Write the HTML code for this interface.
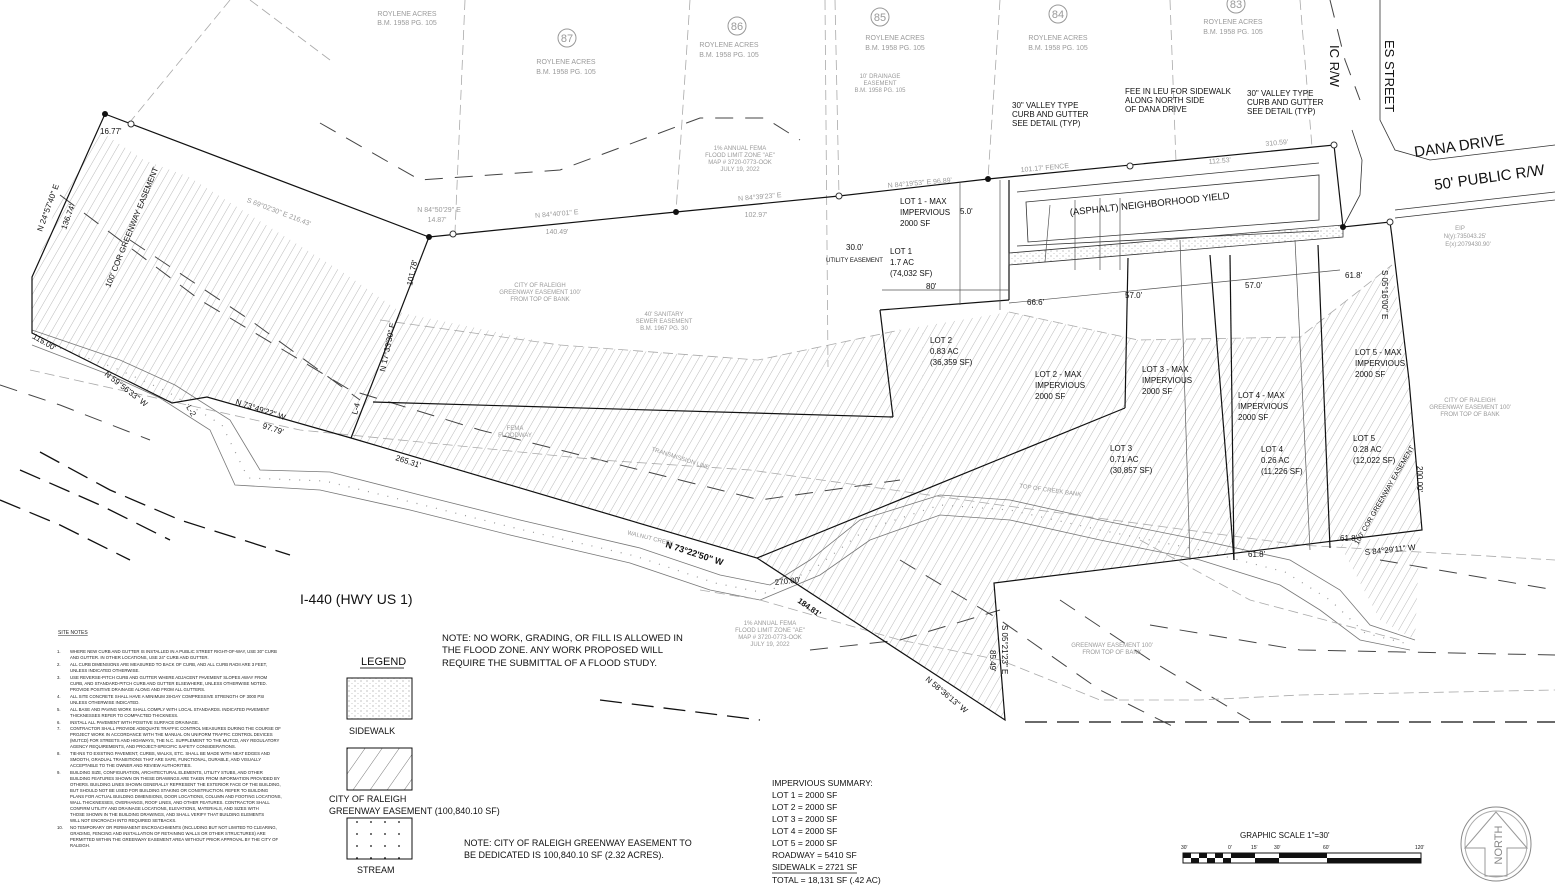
<!DOCTYPE html>
<html><head><meta charset="utf-8"><style>
html,body{margin:0;padding:0;background:#fff;}
svg{display:block;font-family:"Liberation Sans",Arial,sans-serif;}
.g{fill:#9a9a9a;font-size:7px;}
.k{fill:#111;font-size:8px;}
</style></head><body>
<svg width="1555" height="888" viewBox="0 0 1555 888" xmlns="http://www.w3.org/2000/svg">
<defs>
<pattern id="h" width="7" height="7" patternUnits="userSpaceOnUse" patternTransform="rotate(30)">
<line x1="0" y1="0" x2="0" y2="7" stroke="#9a9a9a" stroke-width="0.7"/></pattern>
<pattern id="h2" width="14" height="14" patternUnits="userSpaceOnUse" patternTransform="rotate(35)">
<line x1="0" y1="0" x2="0" y2="14" stroke="#555" stroke-width="0.8"/></pattern>
<pattern id="st" width="6" height="5" patternUnits="userSpaceOnUse">
<circle cx="1" cy="1" r="0.5" fill="#666"/><circle cx="4" cy="3.5" r="0.4" fill="#888"/></pattern>
<pattern id="sm" width="14" height="12" patternUnits="userSpaceOnUse">
<circle cx="7" cy="6" r="0.9" fill="#111"/></pattern>
</defs>
<rect width="1555" height="888" fill="#fff"/>

<polygon fill="url(#h)" points="98,130 144,160 189,177 258,220 344,273 402,313 560,345 758,360 900,330 1009,312 1138,340 1300,337 1392,265 1409,380 1422,530 994,583 1005,720 757,558 351,438 207,397 172,403 32,333 32,277 60,195"/>
<polygon fill="url(#h)" points="1340,545 1420,530 1415,640 1380,620"/>

<polyline fill="none" stroke="#777" stroke-width="0.8" points="32,330 120,360 175,385 230,420 260,470 330,472 420,495 520,520 640,548 720,575 770,585 810,560 860,520 940,495 1010,500 1100,520 1200,540 1290,560 1340,590 1370,625 1415,640"/>
<polyline fill="none" stroke="#777" stroke-width="0.8" points="32,345 110,375 160,398 210,430 235,485 320,490 410,510 510,535 630,563 710,590 760,600 820,575 870,540 940,515 1010,520 1100,540 1200,560 1280,585 1320,610 1360,640 1410,650"/>
<polyline fill="none" stroke="#999" stroke-width="1.2" stroke-dasharray="1 9" points="32,338 115,368 168,392 222,425 248,478 325,481 415,503 515,528 635,556 715,583 765,593 815,568 865,530 940,505 1010,510 1100,530 1200,550 1285,572 1330,600 1365,633 1412,645"/>

<g stroke="#111" stroke-width="1.3" fill="none" stroke-dasharray="22 10">
<polyline points="40,452 110,490 180,520 290,555"/>
<polyline points="20,470 100,505 170,540"/>
<polyline points="0,500 60,525 130,560"/>
<polyline points="1025,722 1555,722"/>
<polyline points="600,700 760,720"/>
</g>
<g stroke="#444" stroke-width="1" fill="none" stroke-dasharray="18 12">
<polyline points="0,385 60,405 150,440"/>
<polyline points="60,195 200,300 350,390 480,430 640,470 760,500 900,480"/>
<polyline points="130,240 250,320 360,400"/>
<polyline points="900,560 1000,620 1100,690 1180,730"/>
<polyline points="1060,600 1150,660 1250,720"/>
<polyline points="810,650 900,640 1000,610"/>
<polyline points="1150,625 1300,650 1555,655"/>
<polyline points="1380,560 1555,590"/>
<polyline points="320,123 420,180 560,170 700,118 765,118 800,140"/>
<polyline points="1330,0 1345,60 1360,100"/>
</g>
<g stroke="#aaa" stroke-width="0.8" fill="none" stroke-dasharray="10 5">
<polyline points="30,370 300,430 600,460 750,470 1000,505 1300,545 1555,560"/>
<polyline points="380,320 560,345 758,360 900,330"/>
<polyline points="1009,312 1138,340 1300,337 1392,265"/>
<polyline points="1140,540 1250,600 1400,640"/>
<line x1="465" y1="0" x2="455" y2="232"/>
<line x1="690" y1="0" x2="676" y2="212"/>
<line x1="825" y1="0" x2="828" y2="367"/>
<line x1="835" y1="0" x2="839" y2="196"/>
<line x1="1000" y1="0" x2="988" y2="178"/>
<line x1="1170" y1="0" x2="1176" y2="162"/>
<line x1="1300" y1="0" x2="1312" y2="147"/>
<line x1="230" y1="0" x2="130" y2="122"/>
<line x1="250" y1="0" x2="330" y2="60"/>
<polyline points="700,590 760,600 900,640 1000,660 1100,700 1200,700 1300,695 1555,690"/>
</g>

<g stroke="#111" stroke-width="1.2" fill="none">
<polyline points="105,114 429,237 676,212 839,196 988,179 1334,145 1343,227 1390,222 1392,237 1409,380 1422,530 994,583 1005,720 757,558 351,438 207,397 172,403 32,333 32,277 105,114"/>
<line x1="429" y1="237" x2="351" y2="438"/>
<line x1="373" y1="402" x2="893" y2="417"/>
<line x1="880" y1="310" x2="893" y2="417"/>
<line x1="880" y1="310" x2="1009" y2="300"/>
<line x1="1009" y1="180" x2="1009" y2="300"/>
<line x1="1128" y1="258" x2="1125" y2="408"/>
<line x1="1125" y1="408" x2="757" y2="558"/>
<line x1="1210" y1="255" x2="1234" y2="560"/>
<line x1="1230" y1="255" x2="1234" y2="560"/>
<line x1="1318" y1="245" x2="1330" y2="548"/>
</g>
<g stroke="#333" stroke-width="0.8" fill="none">
<polygon points="1026,202 1319,175 1319,220 1028,242"/>
<line x1="1017" y1="192" x2="1319" y2="163"/>
<line x1="1017" y1="246" x2="1319" y2="231"/>
<polygon points="1009,253 1343,225 1343,237 1009,265" fill="url(#st)"/>
<polyline points="1343,227 1360,195 1362,160 1352,130"/>
<polyline points="1380,0 1380,120 1395,150 1430,160 1555,145"/>
<polyline points="1395,210 1555,192"/>
<polyline points="1395,218 1555,200"/>
</g>
<g stroke="#555" stroke-width="0.7" fill="none">
<line x1="1000" y1="180" x2="1000" y2="310"/>
<line x1="1050" y1="205" x2="1045" y2="262"/>
<line x1="1075" y1="200" x2="1075" y2="270"/>
<line x1="1100" y1="198" x2="1100" y2="270"/>
<line x1="1120" y1="198" x2="1120" y2="270"/>
<line x1="1180" y1="240" x2="1190" y2="560"/>
<line x1="1295" y1="240" x2="1310" y2="550"/>
<line x1="960" y1="183" x2="960" y2="305"/>
<line x1="882" y1="290" x2="1009" y2="290"/>
<line x1="1009" y1="303" x2="1340" y2="270"/>
</g>

<g fill="#111"><circle cx="105" cy="114" r="3"/><circle cx="429" cy="237" r="3"/><circle cx="676" cy="212" r="3"/><circle cx="988" cy="179" r="3"/><circle cx="1343" cy="227" r="3"/></g>
<g fill="#fff" stroke="#333"><circle cx="131" cy="124" r="3"/><circle cx="453" cy="234" r="3"/><circle cx="839" cy="196" r="3"/><circle cx="1130" cy="166" r="3"/><circle cx="1390" cy="222" r="3"/><circle cx="1334" cy="145" r="3"/></g>

<g fill="none" stroke="#999"><circle cx="567" cy="38" r="9"/><circle cx="737" cy="26" r="9"/><circle cx="880" cy="17" r="9"/><circle cx="1058" cy="14" r="9"/><circle cx="1236" cy="4" r="9"/></g>
<g class="g" text-anchor="middle" style="font-size:11px"><text x="567" y="42">87</text><text x="737" y="30">86</text><text x="880" y="21">85</text><text x="1058" y="18">84</text><text x="1236" y="8">83</text></g>
<g class="g" text-anchor="middle">
<text x="407" y="16">ROYLENE ACRES</text><text x="407" y="25">B.M. 1958 PG. 105</text>
<text x="566" y="64">ROYLENE ACRES</text><text x="566" y="74">B.M. 1958 PG. 105</text>
<text x="729" y="47">ROYLENE ACRES</text><text x="729" y="57">B.M. 1958 PG. 105</text>
<text x="895" y="40">ROYLENE ACRES</text><text x="895" y="50">B.M. 1958 PG. 105</text>
<text x="1058" y="40">ROYLENE ACRES</text><text x="1058" y="50">B.M. 1958 PG. 105</text>
<text x="1233" y="24">ROYLENE ACRES</text><text x="1233" y="34">B.M. 1958 PG. 105</text>
<text x="880" y="78" style="font-size:6px">10' DRAINAGE</text><text x="880" y="85" style="font-size:6px">EASEMENT</text><text x="880" y="92" style="font-size:6px">B.M. 1958 PG. 105</text>
<text x="740" y="150" style="font-size:6px">1% ANNUAL FEMA</text><text x="740" y="157" style="font-size:6px">FLOOD LIMIT ZONE "AE"</text><text x="740" y="164" style="font-size:6px">MAP # 3720-0773-OOK</text><text x="740" y="171" style="font-size:6px">JULY 19, 2022</text>
<text x="540" y="287" style="font-size:6px">CITY OF RALEIGH</text><text x="540" y="294" style="font-size:6px">GREENWAY EASEMENT 100'</text><text x="540" y="301" style="font-size:6px">FROM TOP OF BANK</text>
<text x="664" y="316" style="font-size:6px">40' SANITARY</text><text x="664" y="323" style="font-size:6px">SEWER EASEMENT</text><text x="664" y="330" style="font-size:6px">B.M. 1967 PG. 30</text>
<text x="515" y="430" style="font-size:6px">FEMA</text><text x="515" y="437" style="font-size:6px">FLOODWAY</text>
<text x="770" y="625" style="font-size:6px">1% ANNUAL FEMA</text><text x="770" y="632" style="font-size:6px">FLOOD LIMIT ZONE "AE"</text><text x="770" y="639" style="font-size:6px">MAP # 3720-0773-OOK</text><text x="770" y="646" style="font-size:6px">JULY 19, 2022</text>
<text x="1112" y="647" style="font-size:6px">GREENWAY EASEMENT 100'</text><text x="1112" y="654" style="font-size:6px">FROM TOP OF BANK</text>
<text x="1470" y="402" style="font-size:6px">CITY OF RALEIGH</text><text x="1470" y="409" style="font-size:6px">GREENWAY EASEMENT 100'</text><text x="1470" y="416" style="font-size:6px">FROM TOP OF BANK</text>
<text x="1050" y="492" style="font-size:6px" transform="rotate(8 1050 492)">TOP OF CREEK BANK</text>
<text x="680" y="460" style="font-size:6px" transform="rotate(18 680 460)">TRANSMISSION LINE</text>
<text x="650" y="540" style="font-size:6px" transform="rotate(14 650 540)">WALNUT CREEK</text>
<text x="278" y="214" transform="rotate(21 278 214)">S 69°02'30" E 216.43'</text>
<text x="439" y="212">N 84°50'29" E</text><text x="437" y="222">14.87'</text>
<text x="557" y="216" transform="rotate(-5 557 216)">N 84°40'01" E</text><text x="557" y="234">140.49'</text>
<text x="760" y="199" transform="rotate(-5 760 199)">N 84°39'23" E</text><text x="756" y="217">102.97'</text>
<text x="920" y="185" transform="rotate(-5 920 185)">N 84°19'53" E  96.89'</text>
<text x="1045" y="170" transform="rotate(-5 1045 170)">101.17'  FENCE</text>
<text x="1220" y="163" transform="rotate(-5 1220 163)">112.53'</text>
<text x="1277" y="145" transform="rotate(-5 1277 145)">310.59'</text>
<text x="1460" y="230" style="font-size:6px">EIP</text><text x="1465" y="238" style="font-size:6px">N(y):735043.25'</text><text x="1468" y="246" style="font-size:6px">E(x):2079430.90'</text>
</g>

<g class="k">
<text x="1415" y="157" style="font-size:15px" transform="rotate(-8 1415 157)">DANA DRIVE</text>
<text x="1435" y="190" style="font-size:15px" transform="rotate(-8 1435 190)">50' PUBLIC R/W</text>
<text x="1385" y="40" style="font-size:13px" transform="rotate(90 1385 40)">ES STREET</text>
<text x="1330" y="45" style="font-size:13px" transform="rotate(90 1330 45)">IC R/W</text>
<text x="1150" y="207" style="font-size:9.5px" transform="rotate(-6 1150 207)" text-anchor="middle">(ASPHALT) NEIGHBORHOOD YIELD</text>
<text x="1012" y="108">30" VALLEY TYPE</text><text x="1012" y="117">CURB AND GUTTER</text><text x="1012" y="126">SEE DETAIL (TYP)</text>
<text x="1125" y="94">FEE IN LEU FOR SIDEWALK</text><text x="1125" y="103">ALONG NORTH SIDE</text><text x="1125" y="112">OF DANA DRIVE</text>
<text x="1247" y="96">30" VALLEY TYPE</text><text x="1247" y="105">CURB AND GUTTER</text><text x="1247" y="114">SEE DETAIL (TYP)</text>
<text x="900" y="204">LOT 1 - MAX</text><text x="900" y="215">IMPERVIOUS</text><text x="900" y="226">2000 SF</text>
<text x="890" y="254">LOT 1</text><text x="890" y="265">1.7 AC</text><text x="890" y="276">(74,032 SF)</text>
<text x="960" y="214">5.0'</text><text x="926" y="289">80'</text><text x="1027" y="305">66.6'</text><text x="1125" y="298">57.0'</text><text x="1245" y="288">57.0'</text><text x="1345" y="278">61.8'</text>
<text x="846" y="250">30.0'</text><text x="826" y="262" style="font-size:6px">UTILITY EASEMENT</text>
<text x="930" y="343">LOT 2</text><text x="930" y="354">0.83 AC</text><text x="930" y="365">(36,359 SF)</text>
<text x="1035" y="377">LOT 2 - MAX</text><text x="1035" y="388">IMPERVIOUS</text><text x="1035" y="399">2000 SF</text>
<text x="1142" y="372">LOT 3 - MAX</text><text x="1142" y="383">IMPERVIOUS</text><text x="1142" y="394">2000 SF</text>
<text x="1238" y="398">LOT 4 - MAX</text><text x="1238" y="409">IMPERVIOUS</text><text x="1238" y="420">2000 SF</text>
<text x="1355" y="355">LOT 5 - MAX</text><text x="1355" y="366">IMPERVIOUS</text><text x="1355" y="377">2000 SF</text>
<text x="1110" y="451">LOT 3</text><text x="1110" y="462">0.71 AC</text><text x="1110" y="473">(30,857 SF)</text>
<text x="1261" y="452">LOT 4</text><text x="1261" y="463">0.26 AC</text><text x="1261" y="474">(11,226 SF)</text>
<text x="1353" y="441">LOT 5</text><text x="1353" y="452">0.28 AC</text><text x="1353" y="463">(12,022 SF)</text>
<text x="775" y="585" transform="rotate(-6 775 585)">270.00'</text><text x="1248" y="557">61.8'</text><text x="1340" y="541">61.8'</text>
<text x="1365" y="555" transform="rotate(-6 1365 555)">S 84°29'11" W</text>
<text x="1417" y="466" transform="rotate(90 1417 466)">200.00'</text>
<text x="1382" y="270" transform="rotate(90 1382 270)">S 05°16'00" E</text>
<text x="665" y="547" style="font-size:9px;font-weight:bold" transform="rotate(18 665 547)">N 73°22'50" W</text>
<text x="797" y="602" style="font-size:8px;font-weight:bold" transform="rotate(35 797 602)">184.81'</text>
<text x="925" y="680" transform="rotate(40 925 680)">N 58°36'13" W</text>
<text x="1002" y="625" transform="rotate(90 1002 625)">S 05°21'23" E</text>
<text x="990" y="650" transform="rotate(90 990 650)">85.49'</text>
<text x="235" y="404" transform="rotate(18 235 404)">N 73°49'22" W</text>
<text x="262" y="428" transform="rotate(18 262 428)">97.79'</text>
<text x="395" y="460" transform="rotate(18 395 460)">265.31'</text>
<text x="104" y="375" transform="rotate(38 104 375)">N 59°56'33" W</text>
<text x="32" y="338" transform="rotate(30 32 338)">115.00'</text>
<text x="186" y="407" transform="rotate(60 186 407)">L-2</text>
<text x="357" y="415" transform="rotate(-75 357 415)">L-4</text>
<text x="42" y="232" transform="rotate(-70 42 232)">N 24°57'40" E</text>
<text x="66" y="230" transform="rotate(-70 66 230)">136.74'</text>
<text x="110" y="288" transform="rotate(-68 110 288)">100' COR GREENWAY EASEMENT</text>
<text x="385" y="372" transform="rotate(-78 385 372)">N 17°33'30" E</text>
<text x="412" y="286" transform="rotate(-78 412 286)">101.78'</text>
<text x="100" y="134">16.77'</text>
<text x="1358" y="545" style="font-size:7px" transform="rotate(-60 1358 545)">100' COR GREENWAY EASEMENT</text>
<text x="300" y="604" style="font-size:14px">I-440 (HWY US 1)</text>
<text x="442" y="641" style="font-size:9.5px">NOTE: NO WORK, GRADING, OR FILL IS ALLOWED IN</text>
<text x="442" y="653" style="font-size:9.5px">THE FLOOD ZONE. ANY WORK PROPOSED WILL</text>
<text x="442" y="666" style="font-size:9.5px">REQUIRE THE SUBMITTAL OF A FLOOD STUDY.</text>
<text x="464" y="846" style="font-size:9px">NOTE: CITY OF RALEIGH GREENWAY EASEMENT TO</text>
<text x="464" y="858" style="font-size:9px">BE DEDICATED IS 100,840.10 SF (2.32 ACRES).</text>
</g>

<text x="361" y="665" style="font-size:11px" fill="#111">LEGEND</text>
<line x1="360" y1="668" x2="404" y2="668" stroke="#333"/>
<rect x="347" y="678" width="65" height="41" fill="url(#st)" stroke="#111"/>
<text x="349" y="734" style="font-size:9px" fill="#111">SIDEWALK</text>
<rect x="347" y="748" width="65" height="42" fill="url(#h2)" stroke="#111"/>
<text x="329" y="802" style="font-size:9px" fill="#111">CITY OF RALEIGH</text>
<text x="329" y="814" style="font-size:9px" fill="#111">GREENWAY EASEMENT (100,840.10 SF)</text>
<rect x="347" y="818" width="65" height="41" fill="url(#sm)" stroke="#111"/>
<text x="357" y="873" style="font-size:9px" fill="#111">STREAM</text>

<g fill="#222" style="font-size:4.3px">
<text x="58" y="634" style="font-size:5px;text-decoration:underline">SITE NOTES</text>
<text x="57" y="653">1.</text><text x="70" y="653">WHERE NEW CURB AND GUTTER IS INSTALLED IN A PUBLIC STREET RIGHT-OF-WAY, USE 30" CURB</text><text x="70" y="659">AND GUTTER. IN OTHER LOCATIONS, USE 24" CURB AND GUTTER.</text>
<text x="57" y="666">2.</text><text x="70" y="666">ALL CURB DIMENSIONS ARE MEASURED TO BACK OF CURB, AND ALL CURB RADII ARE 3 FEET,</text><text x="70" y="672">UNLESS INDICATED OTHERWISE.</text>
<text x="57" y="679">3.</text><text x="70" y="679">USE REVERSE-PITCH CURB AND GUTTER WHERE ADJACENT PAVEMENT SLOPES AWAY FROM</text><text x="70" y="685">CURB, AND STANDARD-PITCH CURB AND GUTTER ELSEWHERE, UNLESS OTHERWISE NOTED.</text><text x="70" y="691">PROVIDE POSITIVE DRAINAGE ALONG AND FROM ALL GUTTERS.</text>
<text x="57" y="698">4.</text><text x="70" y="698">ALL SITE CONCRETE SHALL HAVE A MINIMUM 28-DAY COMPRESSIVE STRENGTH OF 3000 PSI</text><text x="70" y="704">UNLESS OTHERWISE INDICATED.</text>
<text x="57" y="711">5.</text><text x="70" y="711">ALL BASE AND PAVING WORK SHALL COMPLY WITH LOCAL STANDARDS. INDICATED PAVEMENT</text><text x="70" y="717">THICKNESSES REFER TO COMPACTED THICKNESS.</text>
<text x="57" y="724">6.</text><text x="70" y="724">INSTALL ALL PAVEMENT WITH POSITIVE SURFACE DRAINAGE.</text>
<text x="57" y="730">7.</text><text x="70" y="730">CONTRACTOR SHALL PROVIDE ADEQUATE TRAFFIC CONTROL MEASURES DURING THE COURSE OF</text><text x="70" y="736">PROJECT WORK IN ACCORDANCE WITH THE MANUAL ON UNIFORM TRAFFIC CONTROL DEVICES</text><text x="70" y="742">(MUTCD) FOR STREETS AND HIGHWAYS, THE N.C. SUPPLEMENT TO THE MUTCD, ANY REGULATORY</text><text x="70" y="748">AGENCY REQUIREMENTS, AND PROJECT-SPECIFIC SAFETY CONSIDERATIONS.</text>
<text x="57" y="755">8.</text><text x="70" y="755">TIE-INS TO EXISTING PAVEMENT, CURBS, WALKS, ETC. SHALL BE MADE WITH NEAT EDGES AND</text><text x="70" y="761">SMOOTH, GRADUAL TRANSITIONS THAT ARE SAFE, FUNCTIONAL, DURABLE, AND VISUALLY</text><text x="70" y="767">ACCEPTABLE TO THE OWNER AND REVIEW AUTHORITIES.</text>
<text x="57" y="774">9.</text><text x="70" y="774">BUILDING SIZE, CONFIGURATION, ARCHITECTURAL ELEMENTS, UTILITY STUBS, AND OTHER</text><text x="70" y="780">BUILDING FEATURES SHOWN ON THESE DRAWINGS ARE TAKEN FROM INFORMATION PROVIDED BY</text><text x="70" y="786">OTHERS. BUILDING LINES SHOWN GENERALLY REPRESENT THE EXTERIOR FACE OF THE BUILDING,</text><text x="70" y="792">BUT SHOULD NOT BE USED FOR BUILDING STAKING OR CONSTRUCTION. REFER TO BUILDING</text><text x="70" y="798">PLANS FOR ACTUAL BUILDING DIMENSIONS, DOOR LOCATIONS, COLUMN AND FOOTING LOCATIONS,</text><text x="70" y="804">WALL THICKNESSES, OVERHANGS, ROOF LINES, AND OTHER FEATURES. CONTRACTOR SHALL</text><text x="70" y="810">CONFIRM UTILITY AND DRAINAGE LOCATIONS, ELEVATIONS, MATERIALS, AND SIZES WITH</text><text x="70" y="816">THOSE SHOWN IN THE BUILDING DRAWINGS, AND SHALL VERIFY THAT BUILDING ELEMENTS</text><text x="70" y="822">WILL NOT ENCROACH INTO REQUIRED SETBACKS.</text>
<text x="57" y="829">10.</text><text x="70" y="829">NO TEMPORARY OR PERMANENT ENCROACHMENTS (INCLUDING BUT NOT LIMITED TO CLEARING,</text><text x="70" y="835">GRADING, FENCING AND INSTALLATION OF RETAINING WALLS OR OTHER STRUCTURES) ARE</text><text x="70" y="841">PERMITTED WITHIN THE GREENWAY EASEMENT AREA WITHOUT PRIOR APPROVAL BY THE CITY OF</text><text x="70" y="847">RALEIGH.</text>
</g>

<g fill="#111" style="font-size:8.5px">
<text x="772" y="786">IMPERVIOUS SUMMARY:</text>
<text x="772" y="798">LOT 1 = 2000 SF</text><text x="772" y="810">LOT 2 = 2000 SF</text><text x="772" y="822">LOT 3 = 2000 SF</text><text x="772" y="834">LOT 4 = 2000 SF</text><text x="772" y="846">LOT 5 = 2000 SF</text><text x="772" y="858">ROADWAY = 5410 SF</text><text x="772" y="870">SIDEWALK = 2721 SF</text><text x="772" y="883">TOTAL = 18,131 SF (.42 AC)</text>
</g>
<line x1="772" y1="873" x2="857" y2="873" stroke="#111" stroke-width="0.7"/>

<text x="1240" y="838" style="font-size:8px" fill="#111">GRAPHIC SCALE   1"=30'</text>
<g fill="#111" style="font-size:5px"><text x="1181" y="849">30'</text><text x="1228" y="849">0'</text><text x="1251" y="849">15'</text><text x="1274" y="849">30'</text><text x="1323" y="849">60'</text><text x="1415" y="849">120'</text></g>
<rect x="1183" y="853" width="238" height="10" fill="#fff" stroke="#111"/>
<g fill="#111"><rect x="1183" y="853" width="8" height="5"/><rect x="1199" y="853" width="8" height="5"/><rect x="1215" y="853" width="8" height="5"/><rect x="1191" y="858" width="8" height="5"/><rect x="1207" y="858" width="8" height="5"/><rect x="1223" y="858" width="8" height="5"/><rect x="1231" y="853" width="24" height="5"/><rect x="1255" y="858" width="24" height="5"/><rect x="1279" y="853" width="48" height="5"/><rect x="1327" y="858" width="94" height="5"/></g>
<ellipse cx="1496" cy="844" rx="35" ry="37" fill="none" stroke="#888"/>
<ellipse cx="1496" cy="844" rx="31" ry="33" fill="none" stroke="#aaa"/>
<polygon points="1496,812 1465,848 1485,848 1485,876 1507,876 1507,848 1527,848" fill="none" stroke="#999"/>
<text x="1502" y="845" style="font-size:11px" fill="#888" text-anchor="middle" transform="rotate(-90 1502 845)">NORTH</text>
</svg>
</body></html>
